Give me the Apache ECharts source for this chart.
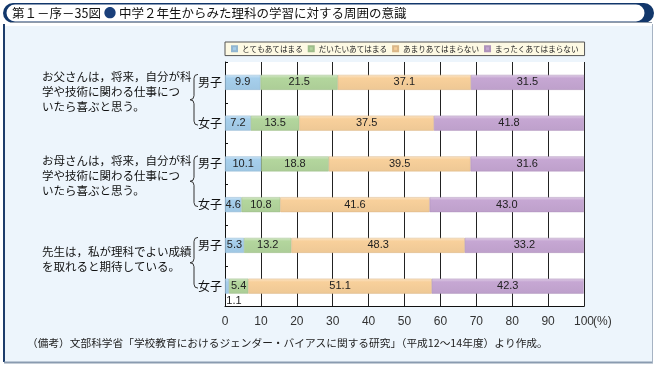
<!DOCTYPE html>
<html><head><meta charset="utf-8">
<script src="https://cdn.jsdelivr.net/npm/echarts@6/dist/echarts.min.js"></script>
<style>html,body{margin:0;padding:0;background:#fff}#c{width:658px;height:370px}</style>
</head><body><div id="c"></div>
<script>
// ---- data ----
const groupTexts = [
  ['お父さんは，将来，自分が科','学や技術に関わる仕事につ','いたら喜ぶと思う。'],
  ['お母さんは，将来，自分が科','学や技術に関わる仕事につ','いたら喜ぶと思う。'],
  ['先生は，私が理科でよい成績','を取れると期待している。']
];
const sexes = ['男子','女子'];
const categories = ['父|男子','父|女子','母|男子','母|女子','先生|男子','先生|女子'];
const seriesNames = ['とてもあてはまる','だいたいあてはまる','あまりあてはまらない','まったくあてはまらない'];
const totemo  = [9.9, 7.2, 10.1, 4.6, 5.3, 1.1];
const daitai  = [21.5, 13.5, 18.8, 10.8, 13.2, 5.4];
const amari   = [37.1, 37.5, 39.5, 41.6, 48.3, 51.1];
const mattaku = [31.5, 41.8, 31.6, 43.0, 33.2, 42.3];
const xTickValues = [0,10,20,30,40,50,60,70,80,90,100];
const titleText = '第１－序－35図';
const titleRest = '中学２年生からみた理科の学習に対する周囲の意識';
const noteText = '（備考）文部科学省「学校教育におけるジェンダー・バイアスに関する研究」（平成12～14年度）より作成。';

// ---- style ----
const colors = ['#a6cfec','#b3d69d','#f8d09b','#c6a7d3'];
const FONT = '"Liberation Sans","Noto Sans CJK JP",sans-serif';
const CJK = '"Noto Sans CJK JP",sans-serif';
function lighten(hex, t){
  const n = parseInt(hex.slice(1),16);
  let r=(n>>16)&255,g=(n>>8)&255,b=n&255;
  r=Math.round(r+(255-r)*t);g=Math.round(g+(255-g)*t);b=Math.round(b+(255-b)*t);
  return 'rgb('+r+','+g+','+b+')';
}
function darken(hex, t){
  const n = parseInt(hex.slice(1),16);
  let r=(n>>16)&255,g=(n>>8)&255,b=n&255;
  r=Math.round(r*(1-t));g=Math.round(g*(1-t));b=Math.round(b*(1-t));
  return 'rgb('+r+','+g+','+b+')';
}
function grad(c){
  return {type:'linear',x:0,y:0,x2:0,y2:1,colorStops:[
    {offset:0,color:lighten(c,0.45)},{offset:0.22,color:c},{offset:1,color:darken(c,0.04)}]};
}

const seriesData = [totemo, daitai, amari, mattaku];
const chart = echarts.init(document.getElementById('c'), null, {renderer:'canvas'});

const series = seriesData.map((arr, si) => ({
  name: seriesNames[si],
  type: 'bar',
  stack: 'all',
  barWidth: 15,
  itemStyle: {color: grad(colors[si]), borderColor: darken(colors[si],0.12), borderWidth: 0.5},
  label: {show: true, position: 'inside', color: '#222', fontSize: 11, fontFamily: FONT,
          formatter: p => Number(p.value).toFixed(1)},
  data: arr.map(v => (v < 2 ? {value: v, label: {position: 'bottom', distance: 1, offset: [7, 1]}} : v))
}));

const option = {
  backgroundColor: '#ffffff',
  animation: false,
  color: colors,
  legend: {
    left: 225, top: 42,
    itemWidth: 5, itemHeight: 5, itemGap: 5,
    padding: [3, 6, 3, 6],
    backgroundColor: '#fdf9e3', borderColor: '#555', borderWidth: 1,
    textStyle: {fontSize: 7.6, color: '#222', fontFamily: CJK},
    icon: 'rect',
    data: seriesNames
  },
  grid: {left: 225, right: 74, top: 62, height: 244.5, show: true, backgroundColor: '#ffffff', borderWidth: 0},
  xAxis: {
    type: 'value', min: 0, max: 100, interval: 10,
    axisLine: {show: true, lineStyle: {color: '#111', width: 1}},
    axisTick: {show: false},
    splitLine: {show: true, lineStyle: {color: '#222', width: 1}},
    axisLabel: {color: '#333', fontSize: 12, fontFamily: FONT, margin: 9,
      formatter: v => (xTickValues.indexOf(v) >= 0 ? String(v) : '')}
  },
  yAxis: {
    type: 'category', inverse: true, data: categories,
    axisLine: {show: true, lineStyle: {color: '#111', width: 1}},
    axisTick: {show: true, inside: true, length: 3, lineStyle: {color: '#111'}},
    axisLabel: {color: '#111', fontSize: 12, fontFamily: CJK, margin: 3,
      formatter: v => v.split('|')[1]}
  },
  series: series
};
chart.setOption(option);

// ---- annotations (positions derived from the axes) ----
const groupFirstLineOffset = [-6, -3, 6];
const graphics = [
  {type:'rect', z:-5, shape:{x:5,y:26,width:647,height:336}, style:{fill:'#edf5fc'}, silent:true},
  {type:'line', z:-4, shape:{x1:4,y1:24,x2:4,y2:362}, style:{stroke:'#1d3d6b',lineWidth:2}},
  {type:'line', z:-4, shape:{x1:4,y1:362.5,x2:653,y2:362.5}, style:{stroke:'#8a9bb0',lineWidth:2}},
  {type:'line', z:-4, shape:{x1:652.5,y1:24,x2:652.5,y2:363}, style:{stroke:'#a6b3c3',lineWidth:1}},
  {type:'rect', z:-3, shape:{x:3,y:3,width:651,height:20,r:10}, style:{fill:'#12376b'}},
  {type:'rect', z:-2, shape:{x:6.5,y:4.5,width:638,height:17,r:8.5}, style:{fill:'#ffffff'}},
  {type:'line', z:-2, shape:{x1:10,y1:22.5,x2:652,y2:22.5}, style:{stroke:'#8f9aa8',lineWidth:1}},
  {type:'text', z:10, x:12, y:13, style:{
    text:'{a|'+titleText+' }{b|●}{a| '+titleRest+'}', verticalAlign:'middle',
    rich:{a:{fontSize:12.5,fill:'#111',fontFamily:CJK}, b:{fontSize:12.5,fill:'#1a3f7a',fontFamily:CJK}}}},
  {type:'text', z:10, x:27, y:343, style:{text:noteText, fontSize:10.7, fill:'#222', fontFamily:CJK, verticalAlign:'middle'}}
];
const xEnd = chart.convertToPixel({xAxisIndex:0}, 100);
graphics.push({type:'text', z:10, x:xEnd+9, y:322, style:{text:'(%)', fontSize:12, fill:'#333', fontFamily:FONT, verticalAlign:'middle'}});
const braceStyle = {stroke:'#333', lineWidth:1, fill:null};
groupTexts.forEach((lines, gi) => {
  const c0 = chart.convertToPixel({yAxisIndex:0}, categories[gi*2]);
  const c1 = chart.convertToPixel({yAxisIndex:0}, categories[gi*2+1]);
  const lh = 15;
  graphics.push({type:'text', z:10, x:42, y:c0 + groupFirstLineOffset[gi] - lh/2,
    style:{text:lines.join('\n'), fontSize:11.5, lineHeight:lh, fill:'#111', fontFamily:CJK, verticalAlign:'top'}});
  const y1 = c0 - 8, y2 = c1 + 2, ym = (y1 + y2) / 2;
  const xe = 198, xs = 194, xt = 190;
  graphics.push(
    {type:'bezierCurve', z:10, shape:{x1:xe,y1:y1,cpx1:xs,cpy1:y1,x2:xs,y2:y1+4}, style:braceStyle},
    {type:'line', z:10, shape:{x1:xs,y1:y1+4,x2:xs,y2:ym-4}, style:braceStyle},
    {type:'bezierCurve', z:10, shape:{x1:xs,y1:ym-4,cpx1:xs,cpy1:ym,x2:xt,y2:ym}, style:braceStyle},
    {type:'bezierCurve', z:10, shape:{x1:xt,y1:ym,cpx1:xs,cpy1:ym,x2:xs,y2:ym+4}, style:braceStyle},
    {type:'line', z:10, shape:{x1:xs,y1:ym+4,x2:xs,y2:y2-4}, style:braceStyle},
    {type:'bezierCurve', z:10, shape:{x1:xs,y1:y2-4,cpx1:xs,cpy1:y2,x2:xe,y2:y2}, style:braceStyle}
  );
});
chart.setOption({graphic: {elements: graphics}});
</script>
</body></html>
